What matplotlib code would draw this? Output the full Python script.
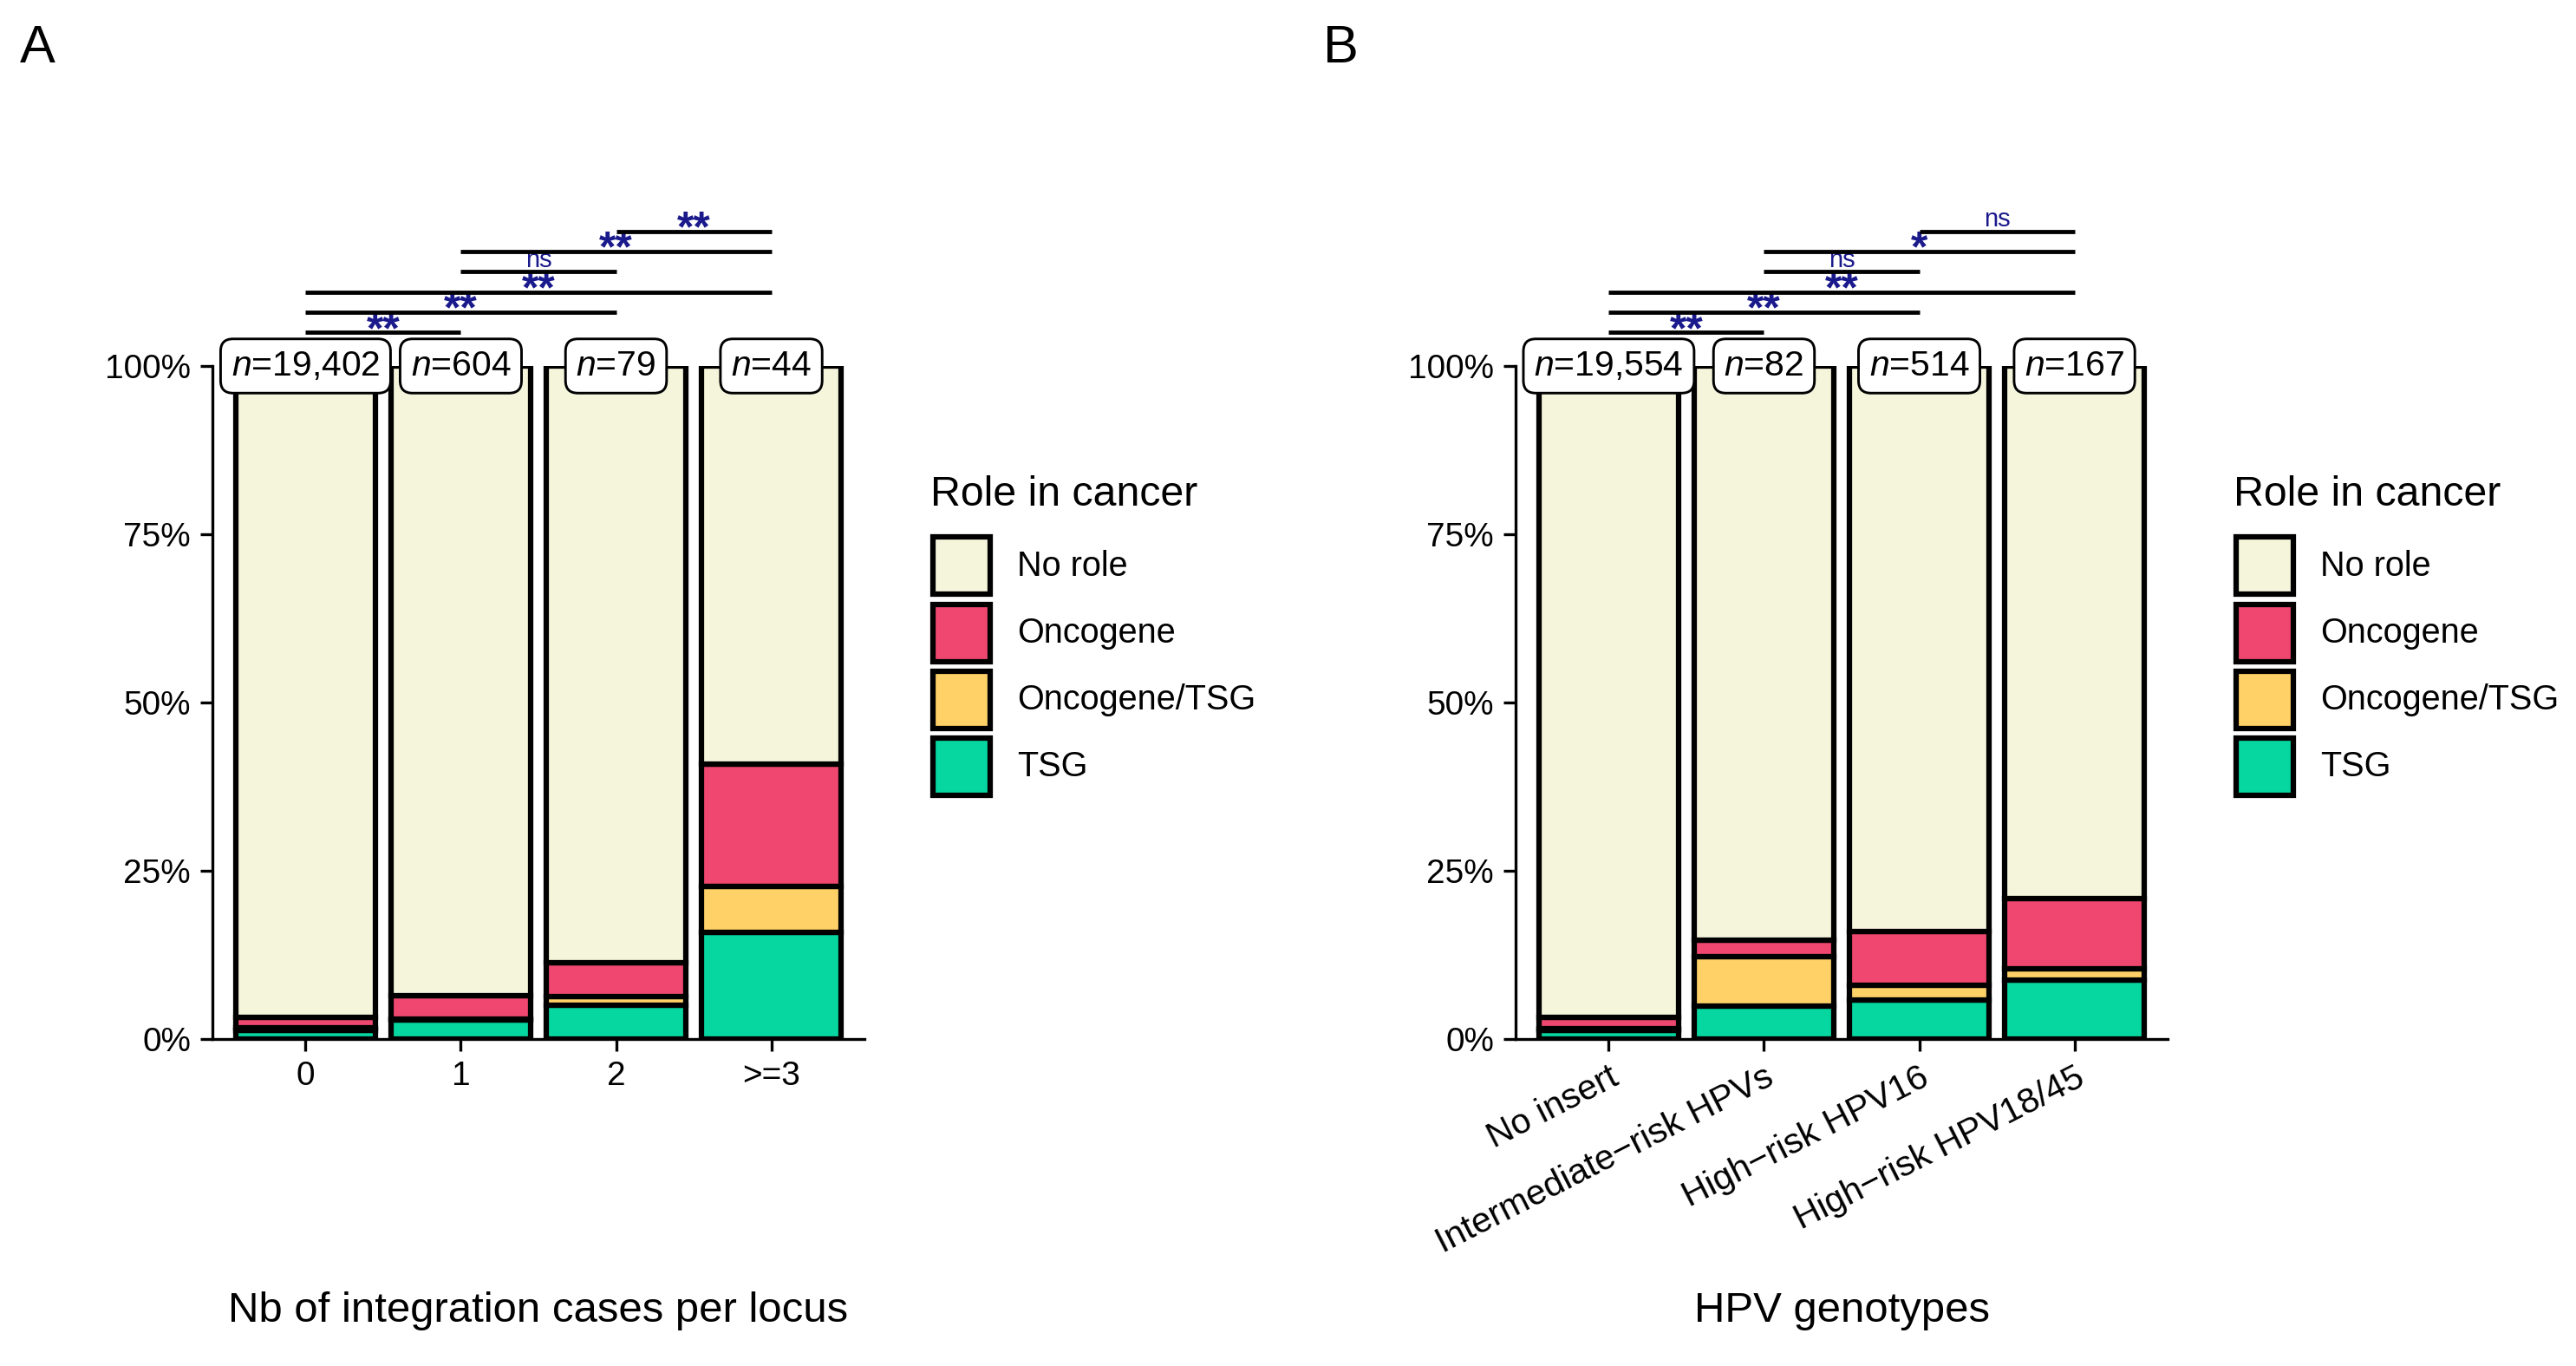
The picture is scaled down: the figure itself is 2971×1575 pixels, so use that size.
import matplotlib
matplotlib.use('Agg')
import matplotlib.pyplot as plt
from matplotlib.patches import Rectangle
from matplotlib.transforms import offset_copy
import numpy as np

plt.rcParams['font.family'] = ['Liberation Sans', 'DejaVu Sans']
plt.rcParams['mathtext.fontset'] = 'custom'
plt.rcParams['mathtext.rm'] = 'Liberation Sans'
plt.rcParams['mathtext.it'] = 'Liberation Sans:italic'

# ---------------- data ----------------
roles = ['No role', 'Oncogene', 'Oncogene/TSG', 'TSG']
role_colors = ['#F5F5DC', '#EF476F', '#FFD166', '#06D6A0']

cats_A = ['0', '1', '2', '>=3']
n_A = [19402, 604, 79, 44]
tsg_A = [1.35, 2.8, 5.06, 15.91]
onc_tsg_A = [0.3, 0.2, 1.27, 6.82]
onc_A = [1.55, 3.45, 5.06, 18.18]
sig_pairs_A = [(0, 1), (0, 2), (0, 3), (1, 2), (1, 3), (2, 3)]
sig_labels_A = ['**', '**', '**', 'ns', '**', '**']
xlabel_A = 'Nb of integration cases per locus'

cats_B = ['No insert', 'Intermediate\u2212risk HPVs', 'High\u2212risk HPV16', 'High\u2212risk HPV18/45']
n_B = [19554, 82, 514, 167]
tsg_B = [1.3, 4.88, 5.84, 8.7]
onc_tsg_B = [0.3, 7.32, 2.14, 1.8]
onc_B = [1.6, 2.44, 7.98, 10.4]
sig_pairs_B = [(0, 1), (0, 2), (0, 3), (1, 2), (1, 3), (2, 3)]
sig_labels_B = ['**', '**', '**', 'ns', '*', 'ns']
xlabel_B = 'HPV genotypes'

y_ticks = [0, 0.25, 0.5, 0.75, 1.0]
y_ticklabels = ['0%', '25%', '50%', '75%', '100%']

# ---------------- layout ----------------
W, H, DPI = 2971, 1575, 300
fig = plt.figure(figsize=(W / DPI, H / DPI), dpi=DPI)
fig.patch.set_facecolor('white')

AX_W, AX_H = 752, 776
AX_BOTTOM = 1198
SHIFT = 1503
SIG_COLOR = '#1a1a8c'


def panel(left_px, letter, cats, n, tsg, ot, onc, pairs, labels, xlabel, rotate):
    ax = fig.add_axes([left_px / W, (H - AX_BOTTOM) / H, AX_W / W, AX_H / H])
    x = np.arange(1, len(cats) + 1)
    tsg = np.array(tsg) / 100
    ot = np.array(ot) / 100
    onc = np.array(onc) / 100
    norole = 1 - tsg - ot - onc
    bottom = np.zeros(len(cats))
    for vals, col in zip([tsg, ot, onc, norole], role_colors[::-1]):
        ax.bar(x, vals, 0.9, bottom=bottom, color=col, edgecolor='black',
               linewidth=1.5, zorder=2)
        bottom = bottom + vals
    ax.set_xlim(0.4, len(cats) + 0.6)
    ax.set_ylim(0, 1)
    for s in ['top', 'right']:
        ax.spines[s].set_visible(False)
    for s in ['left', 'bottom']:
        ax.spines[s].set_linewidth(0.8)
    ax.set_yticks(y_ticks)
    ax.set_yticklabels(y_ticklabels)
    ax.set_xticks(x)
    ax.set_xticklabels(cats)
    ax.tick_params(axis='both', length=3.4, width=0.8, labelsize=9.3,
                   colors='black', pad=2.6)
    if rotate:
        plt.setp(ax.get_xticklabels(), rotation=27, ha='right',
                 rotation_mode='anchor', fontsize=9.8)
    # n labels
    for xi, ni in zip(x, n):
        ax.text(xi, 1.0, r'$\mathit{n}$=' + f'{ni:,}', ha='center', va='center',
                fontsize=9.8, zorder=6, clip_on=False,
                bbox=dict(boxstyle='round,pad=0.3,rounding_size=0.35',
                          fc='white', ec='black', lw=0.7))
    # significance bars
    star_tr = offset_copy(ax.transData, fig=fig, y=-2.8, units='points')
    ns_tr = offset_copy(ax.transData, fig=fig, y=1.4, units='points')
    for k, ((i, j), lab) in enumerate(zip(pairs, labels)):
        y = 1.05 + 0.03 * k
        ax.plot([x[i], x[j]], [y, y], color='black', lw=1.15, clip_on=False,
                solid_capstyle='butt', zorder=5)
        mid = (x[i] + x[j]) / 2
        if lab == 'ns':
            ax.text(mid, y, lab, ha='center', va='baseline', fontsize=7,
                    color=SIG_COLOR, transform=ns_tr, clip_on=False)
        else:
            ax.text(mid, y, lab, ha='center', va='baseline', fontsize=12,
                    fontweight='bold', color=SIG_COLOR, transform=star_tr,
                    clip_on=False)
    # axis title
    fig.text((left_px + AX_W / 2) / W, 1 - 1512 / H, xlabel, ha='center',
             va='center', fontsize=11.8)
    # panel letter
    fig.text((left_px - 222) / W, 1 - 72 / H, letter, ha='left',
             va='baseline', fontsize=14.7)
    # legend
    lx = left_px + 828
    fig.text(lx / W, 1 - 583 / H, 'Role in cancer', ha='left',
             va='baseline', fontsize=11.6)
    for r, (role, col) in enumerate(zip(roles, role_colors)):
        top = 619.5 + 77.3 * r
        rect = Rectangle(((lx + 3) / W, 1 - (top + 66) / H), 66 / W, 66 / H,
                         transform=fig.transFigure, facecolor=col,
                         edgecolor='black', linewidth=1.5)
        fig.patches.append(rect)
        fig.text((lx + 100) / W, 1 - (top + 33) / H, role, ha='left',
                 va='center', fontsize=9.5)
    return ax


panel(245, 'A', cats_A, n_A, tsg_A, onc_tsg_A, onc_A, sig_pairs_A,
      sig_labels_A, xlabel_A, False)
panel(245 + SHIFT, 'B', cats_B, n_B, tsg_B, onc_tsg_B, onc_B, sig_pairs_B,
      sig_labels_B, xlabel_B, True)

fig.savefig('out.png', dpi=DPI, facecolor='white')
